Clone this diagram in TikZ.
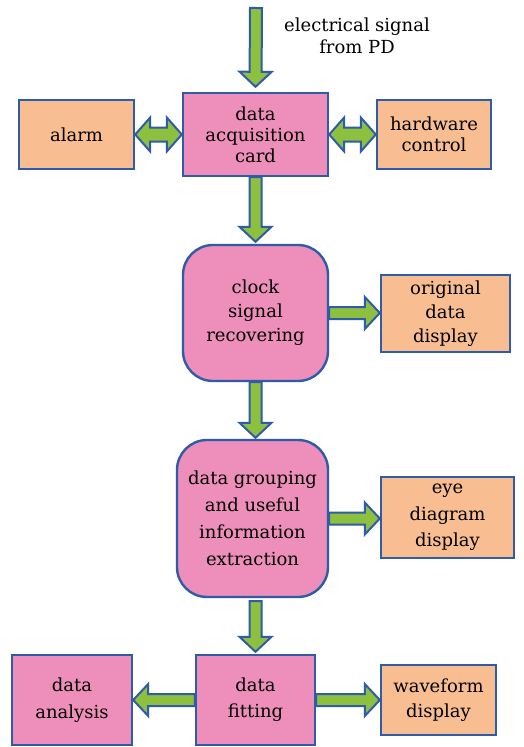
\documentclass[tikz,border=0pt]{standalone}
\usepackage{fontspec}
\setmainfont{DejaVu Serif}
\usetikzlibrary{calc}

\definecolor{boxblue}{RGB}{47,92,170}
\definecolor{procpink}{RGB}{237,143,186}
\definecolor{disporange}{RGB}{248,190,146}
\definecolor{arrowgreen}{RGB}{141,192,63}

\tikzset{
  lskip/.style={font=\fontsize{18}{#1}\selectfont},
  block/.style={draw=boxblue, line width=2.4pt, align=center, inner sep=2pt, lskip=23.5},
  procbox/.style={block, fill=procpink},
  roundbox/.style={procbox, rounded corners=30pt},
  dispbox/.style={block, fill=disporange},
  arrowbody/.style={draw=boxblue, fill=arrowgreen, line width=2pt, line join=miter},
}

% fat arrow from #1 to #2
\newcommand{\blockarrow}[2]{%
  \filldraw[arrowbody] let \p1=(#1), \p2=(#2), \n1={atan2(\y2-\y1,\x2-\x1)} in
    ($(\p1)+(\n1+90:6pt)$) -- ($(\p2)+(\n1+180:15pt)+(\n1+90:6pt)$)
    -- ($(\p2)+(\n1+180:15pt)+(\n1+90:16pt)$) -- (\p2)
    -- ($(\p2)+(\n1+180:15pt)+(\n1-90:16pt)$) -- ($(\p2)+(\n1+180:15pt)+(\n1-90:6pt)$)
    -- ($(\p1)+(\n1-90:6pt)$) -- cycle;}

% fat arrow with heads at both ends
\newcommand{\dblarrow}[2]{%
  \filldraw[arrowbody] let \p1=(#1), \p2=(#2), \n1={atan2(\y2-\y1,\x2-\x1)} in
    (\p1) -- ($(\p1)+(\n1:15pt)+(\n1+90:17pt)$) -- ($(\p1)+(\n1:15pt)+(\n1+90:7pt)$)
    -- ($(\p2)+(\n1+180:15pt)+(\n1+90:7pt)$) -- ($(\p2)+(\n1+180:15pt)+(\n1+90:17pt)$)
    -- (\p2) -- ($(\p2)+(\n1+180:15pt)+(\n1-90:17pt)$) -- ($(\p2)+(\n1+180:15pt)+(\n1-90:7pt)$)
    -- ($(\p1)+(\n1:15pt)+(\n1-90:7pt)$) -- ($(\p1)+(\n1:15pt)+(\n1-90:17pt)$) -- cycle;}

\begin{document}
\begin{tikzpicture}[x=1pt, y=-1pt]
\useasboundingbox[fill=white] (0,0) rectangle (523,747);

\node[procbox, lskip=21, minimum width=145pt, minimum height=83pt] (dac) at (255.5,134.5) {data\\acquisition\\card};
\node[dispbox, minimum width=115pt, minimum height=69pt] (alarm) at (76.5,134.5) {alarm};
\node[dispbox, lskip=21, minimum width=114pt, minimum height=69pt] (hw) at (434,134.5) {hardware\\control};
\node[roundbox, lskip=24, minimum width=145pt, minimum height=136pt] (clock) at (255.5,313) {clock\\signal\\recovering};
\node[dispbox, lskip=24, minimum width=129pt, minimum height=77pt] (orig) at (445.5,313.5) {original\\data\\display};
\node[roundbox, lskip=27, minimum width=151pt, minimum height=157pt] (group) at (252.5,518.5) {data grouping\\and useful\\information\\extraction};
\node[dispbox, lskip=26.5, minimum width=133pt, minimum height=81pt] (eye) at (447.5,517.5) {eye\\diagram\\display};
\node[procbox, lskip=26, minimum width=119pt, minimum height=90pt] (fit) at (255.5,700) {data\\fitting};
\node[procbox, lskip=27, minimum width=120pt, minimum height=90pt] (ana) at (72,700) {data\\analysis};
\node[dispbox, lskip=25, minimum width=115pt, minimum height=70pt] (wave) at (438.5,700) {waveform\\display};

\coordinate (src) at (256,8);
\node[align=center, lskip=22] (pd) at (357,36) {electrical signal\\from PD};

\blockarrow{src}{$(dac.north)+(0,5pt)$}
\dblarrow{alarm.east}{dac.west}
\dblarrow{dac.east}{hw.west}
\blockarrow{dac.south}{$(dac.south |- clock.north)+(0,2pt)$}
\blockarrow{clock.east}{clock.east -| orig.west}
\blockarrow{clock.south}{$(clock.south |- group.north)+(0,1pt)$}
\blockarrow{group.east}{group.east -| eye.west}
\blockarrow{$(fit.north |- group.south)+(0,-3pt)$}{$(fit.north)+(0,2pt)$}
\blockarrow{fit.west}{ana.east}
\blockarrow{fit.east}{wave.west}
\end{tikzpicture}
\end{document}
